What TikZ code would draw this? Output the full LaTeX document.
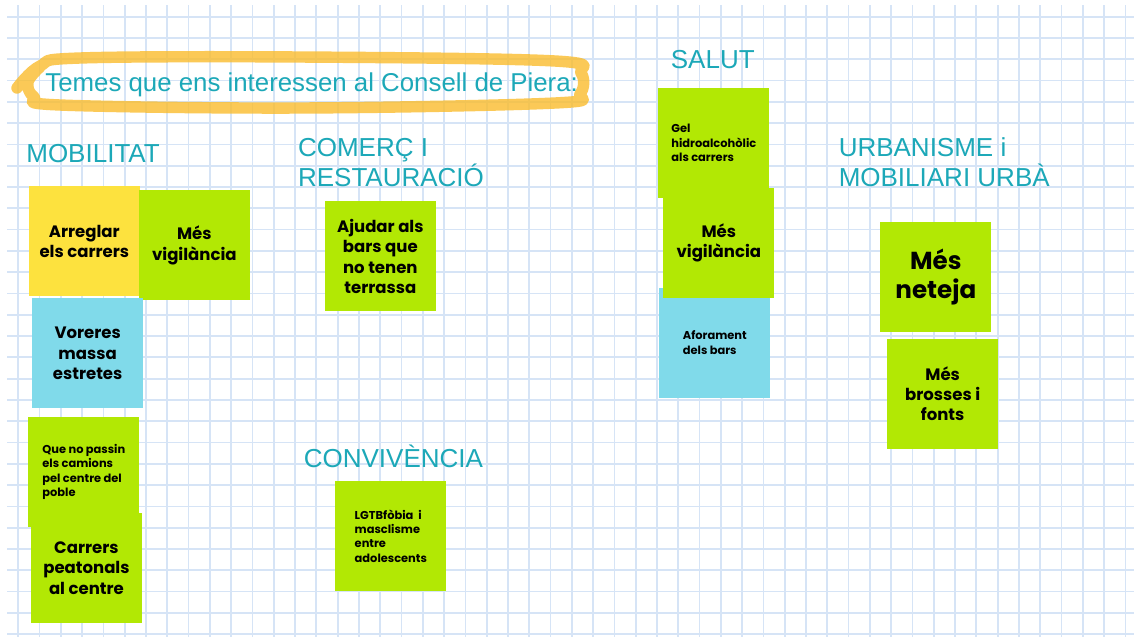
\documentclass[tikz,border=0pt]{standalone}
\usepackage{fontspec}
\setmainfont{Liberation Sans}
\newfontfamily\notefont{Poppins}
\usetikzlibrary{positioning}

\definecolor{notegreen}{RGB}{178,232,4}
\definecolor{noteyellow}{RGB}{253,226,62}
\definecolor{noteblue}{RGB}{128,218,234}
\definecolor{topicteal}{RGB}{28,168,184}
\definecolor{gridblue}{RGB}{214,228,246}
\definecolor{hilite}{RGB}{250,188,45}

\tikzset{
  gridline/.style={draw=gridblue, line width=1pt},
  note/.style={rectangle, anchor=north west, minimum width=2.22cm, minimum height=2.2cm, inner sep=0pt},
  bigtext/.style={align=center, font=\notefont\bfseries\fontsize{9.4}{11.6}\selectfont},
  smalltext/.style={align=left, font=\notefont\bfseries\fontsize{6.5}{8.2}\selectfont},
  topic/.style={text=topicteal, inner sep=0pt, align=left, font=\fontsize{14.8}{17.2}\selectfont},
}

\begin{document}
\begin{tikzpicture}[x=0.02cm, y=-0.02cm]

\useasboundingbox (0,0) rectangle (1134,637);
\fill [white] (0,0) rectangle (1134,637);

% squared paper
\foreach \k in {0,...,52}
  \draw [gridline] ({18.3+21.29*\k},5) -- ({18.3+21.29*\k},637);
\foreach \k in {0,...,29}
  \draw [gridline] (7,{16.7+21.29*\k}) -- (1134,{16.7+21.29*\k});

% title with marker loop
\draw [draw=hilite, opacity=0.8, line width=6.5pt, line cap=round, line join=round]
  plot [smooth, tension=0.6] coordinates {(17,88) (40,66) (80,58) (300,57) (555,61) (581,73) (580,94) (555,103) (300,108) (60,105) (34,97) (28,82) (40,67)};
\draw (45,91) node (title) [anchor=base west, topic, font=\fontsize{14.7}{17.2}\selectfont] {Temes que ens interessen al Consell de Piera:};

% headings
\draw (26,162.7) node (mob) [anchor=base west, topic] {MOBILITAT};
\draw (297.7,138) node (com) [anchor=north west, topic] {COMERÇ I\\RESTAURACIÓ};
\draw (670.5,68.3) node (sal) [anchor=base west, topic] {SALUT};
\draw (838.4,137.5) node (urb) [anchor=north west, topic] {URBANISME i\\MOBILIARI URBÀ};
\draw (303.5,467.3) node (conv) [anchor=base west, topic] {CONVIVÈNCIA};

% MOBILITAT
\draw (28.5,186) node (arreglar) [note, fill=noteyellow] {};
\draw (arreglar) node [bigtext] {Arreglar\\els carrers};
\draw (138.5,190) node (vigilA) [note, fill=notegreen] {};
\draw (vigilA) node [bigtext] {Més\\vigilància};
\draw (31.8,298) node (voreres) [note, fill=noteblue] {};
\draw (voreres) node [bigtext] {Voreres\\massa\\estretes};
\draw (28,416.7) node (camions) [note, fill=notegreen] {};
\draw (camions) node [smalltext] {Que no passin\\els camions\\pel centre del\\poble};
\draw (30.6,512.7) node (peatonals) [note, fill=notegreen] {};
\draw (peatonals) node [bigtext] {Carrers\\peatonals\\al centre};

% COMERÇ I RESTAURACIÓ
\draw (324.5,201) node (bars) [note, fill=notegreen] {};
\draw (bars) node [bigtext] {Ajudar als\\bars que\\no tenen\\terrassa};

% CONVIVÈNCIA
\draw (335,480.7) node (lgtb) [note, fill=notegreen] {};
\draw (lgtb) node [smalltext] {LGTBfòbia~~i\\masclisme\\entre\\adolescents};

% SALUT
\draw (658,87.7) node (gel) [note, fill=notegreen] {};
\draw (gel) node [smalltext] {Gel\\hidroalcohòlic\\als carrers};
\draw (659,287.3) node (aforament) [note, fill=noteblue] {};
\draw (aforament) node [smalltext] {Aforament\\dels bars};
\draw (663,187.7) node (vigilB) [note, fill=notegreen] {};
\draw (vigilB) node [bigtext] {Més\\vigilància};

% URBANISME i MOBILIARI URBÀ
\draw (880,221.7) node (neteja) [note, fill=notegreen] {};
\draw (neteja) node [bigtext, font=\notefont\bfseries\fontsize{14}{16.2}\selectfont] {Més\\neteja};
\draw (886.8,338.3) node (brosses) [note, fill=notegreen] {};
\draw (brosses) node [bigtext] {Més\\brosses i\\fonts};

\end{tikzpicture}
\end{document}
